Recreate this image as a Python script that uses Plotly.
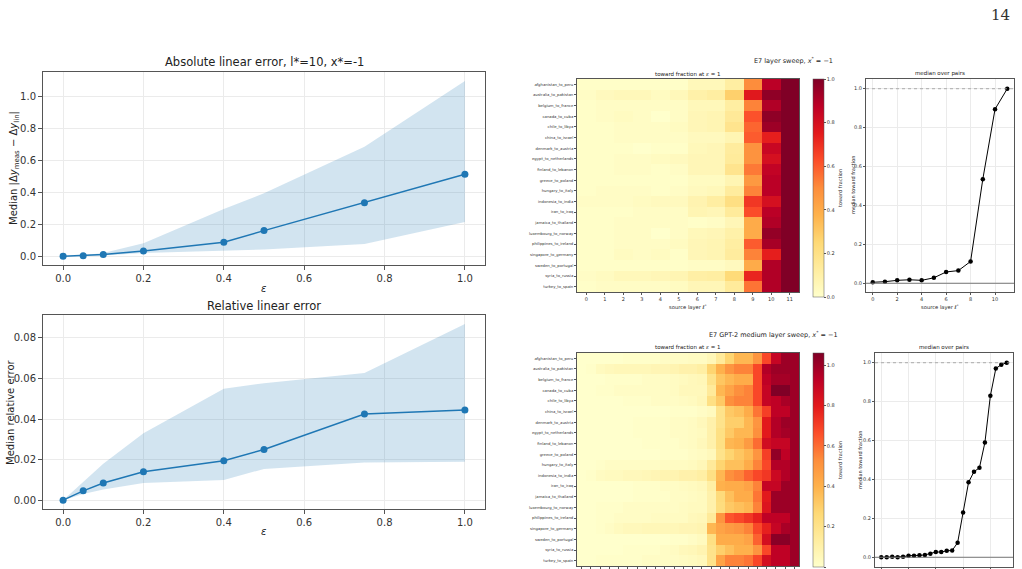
import plotly.graph_objects as go

W, H = 1022, 569
def PX(x): return x / W
def PY(y): return 1 - y / H

# ---------------- data ----------------
eps = [0.0, 0.05, 0.1, 0.2, 0.4, 0.5, 0.75, 1.0]
abs_median = [0.0, 0.003, 0.010, 0.033, 0.087, 0.160, 0.335, 0.513]
abs_lower = [0.0, 0.001, 0.005, 0.020, 0.033, 0.042, 0.077, 0.214]
abs_upper = [0.0, 0.006, 0.020, 0.081, 0.295, 0.393, 0.684, 1.096]

rel_median = [0.0, 0.0046, 0.0085, 0.0140, 0.0194, 0.0250, 0.0425, 0.0445]
rel_lower = [0.0, 0.0030, 0.0053, 0.0085, 0.0100, 0.0154, 0.0186, 0.0190]
rel_upper = [0.0, 0.0090, 0.0180, 0.0330, 0.0549, 0.0577, 0.0627, 0.0869]

pairs = ["afghanistan_to_peru", "australia_to_pakistan", "belgium_to_france", "canada_to_cuba",
         "chile_to_libya", "china_to_israel", "denmark_to_austria", "egypt_to_netherlands",
         "finland_to_lebanon", "greece_to_poland", "hungary_to_italy", "indonesia_to_india",
         "iran_to_iraq", "jamaica_to_thailand", "luxembourg_to_norway", "philippines_to_ireland",
         "singapore_to_germany", "sweden_to_portugal", "syria_to_russia", "turkey_to_spain"]

layers_small = list(range(12))
toward_small = [
    [0.01, 0.01, 0.01, 0.01, 0.01, 0.01, 0.05, 0.05, 0.12, 0.50, 0.88, 1.00],
    [0.02, 0.04, 0.05, 0.05, 0.03, 0.05, 0.10, 0.12, 0.28, 0.76, 0.97, 1.00],
    [0.01, 0.02, 0.02, 0.02, 0.02, 0.02, 0.05, 0.05, 0.12, 0.52, 0.90, 1.00],
    [0.01, 0.02, 0.03, 0.02, 0.00, 0.02, 0.06, 0.07, 0.15, 0.62, 0.97, 1.00],
    [0.01, 0.01, 0.02, 0.02, 0.02, 0.03, 0.06, 0.07, 0.18, 0.58, 0.94, 1.00],
    [0.01, 0.01, 0.02, 0.02, 0.02, 0.02, 0.04, 0.04, 0.07, 0.60, 0.74, 1.00],
    [0.01, 0.01, 0.01, 0.00, 0.01, 0.01, 0.05, 0.06, 0.13, 0.48, 0.84, 1.00],
    [0.01, 0.01, 0.02, 0.02, 0.03, 0.04, 0.06, 0.06, 0.14, 0.48, 0.80, 1.00],
    [0.01, 0.01, 0.02, 0.02, 0.01, 0.02, 0.06, 0.06, 0.18, 0.54, 0.86, 1.00],
    [0.01, 0.01, 0.01, 0.01, 0.01, 0.01, 0.03, 0.03, 0.07, 0.46, 0.88, 1.00],
    [0.01, 0.02, 0.02, 0.02, 0.01, 0.02, 0.04, 0.05, 0.13, 0.52, 0.88, 1.00],
    [0.02, 0.02, 0.02, 0.03, 0.04, 0.04, 0.08, 0.12, 0.21, 0.68, 0.80, 1.00],
    [0.01, 0.01, 0.01, 0.02, 0.02, 0.02, 0.07, 0.06, 0.14, 0.63, 0.88, 1.00],
    [0.01, 0.01, 0.02, 0.02, 0.02, 0.02, 0.01, 0.02, 0.06, 0.40, 0.90, 1.00],
    [0.01, 0.01, 0.02, 0.02, 0.00, 0.02, 0.05, 0.06, 0.10, 0.40, 0.96, 1.00],
    [0.01, 0.01, 0.02, 0.02, 0.02, 0.03, 0.06, 0.07, 0.12, 0.60, 0.92, 1.00],
    [0.01, 0.01, 0.03, 0.02, 0.03, 0.01, 0.06, 0.07, 0.13, 0.52, 0.74, 1.00],
    [0.01, 0.01, 0.01, 0.01, 0.01, 0.01, 0.02, 0.02, 0.04, 0.40, 0.90, 1.00],
    [0.02, 0.03, 0.05, 0.05, 0.06, 0.07, 0.11, 0.12, 0.24, 0.72, 0.90, 1.00],
    [0.01, 0.02, 0.02, 0.02, 0.02, 0.03, 0.06, 0.06, 0.14, 0.55, 0.90, 1.00],
]
median_small = [0.005, 0.008, 0.015, 0.018, 0.015, 0.028, 0.058, 0.065, 0.112, 0.535, 0.895, 1.0]

layers_medium = list(range(24))
toward_medium = [
    [0.00, 0.00, 0.00, 0.00, 0.00, 0.01, 0.01, 0.01, 0.01, 0.02, 0.02, 0.02, 0.03, 0.03, 0.06, 0.15, 0.28, 0.38, 0.38, 0.50, 0.68, 0.90, 1.00, 1.00],
    [0.00, 0.01, 0.04, 0.05, 0.06, 0.06, 0.06, 0.06, 0.07, 0.07, 0.08, 0.10, 0.10, 0.12, 0.28, 0.40, 0.50, 0.55, 0.55, 0.68, 0.95, 1.00, 1.00, 1.00],
    [0.00, 0.00, 0.00, 0.01, 0.01, 0.01, 0.01, 0.02, 0.02, 0.02, 0.03, 0.04, 0.05, 0.06, 0.20, 0.33, 0.38, 0.42, 0.42, 0.68, 0.92, 0.98, 0.98, 1.00],
    [0.00, 0.00, 0.01, 0.01, 0.02, 0.02, 0.02, 0.02, 0.02, 0.02, 0.03, 0.05, 0.05, 0.05, 0.15, 0.38, 0.45, 0.52, 0.55, 0.68, 0.90, 1.06, 1.06, 1.00],
    [0.00, 0.00, 0.00, 0.00, 0.00, 0.01, 0.01, 0.01, 0.02, 0.02, 0.02, 0.03, 0.04, 0.06, 0.22, 0.32, 0.52, 0.55, 0.55, 0.68, 0.90, 0.92, 0.97, 1.00],
    [0.00, 0.00, 0.00, 0.00, 0.00, 0.00, 0.00, 0.00, 0.00, 0.00, 0.01, 0.01, 0.01, 0.02, 0.04, 0.20, 0.32, 0.35, 0.42, 0.58, 0.70, 0.92, 0.92, 1.00],
    [0.00, 0.00, 0.00, 0.00, 0.00, 0.00, 0.01, 0.01, 0.01, 0.01, 0.02, 0.02, 0.03, 0.05, 0.10, 0.20, 0.30, 0.30, 0.38, 0.50, 0.80, 0.95, 1.00, 1.00],
    [0.00, 0.00, 0.00, 0.00, 0.00, 0.00, 0.01, 0.01, 0.01, 0.01, 0.02, 0.02, 0.03, 0.04, 0.10, 0.22, 0.32, 0.38, 0.38, 0.52, 0.80, 0.95, 0.98, 1.00],
    [0.00, 0.00, 0.00, 0.00, 0.00, 0.00, 0.00, 0.01, 0.01, 0.01, 0.01, 0.02, 0.03, 0.05, 0.10, 0.22, 0.38, 0.40, 0.48, 0.60, 0.86, 0.90, 0.90, 1.00],
    [0.00, 0.00, 0.00, 0.00, 0.00, 0.00, 0.00, 0.00, 0.00, 0.01, 0.01, 0.01, 0.02, 0.03, 0.05, 0.20, 0.28, 0.33, 0.38, 0.50, 0.70, 1.02, 0.92, 1.00],
    [0.00, 0.00, 0.01, 0.02, 0.02, 0.02, 0.02, 0.02, 0.02, 0.03, 0.03, 0.03, 0.04, 0.06, 0.15, 0.28, 0.35, 0.35, 0.42, 0.55, 0.68, 0.95, 0.95, 1.00],
    [0.00, 0.01, 0.03, 0.04, 0.04, 0.05, 0.05, 0.06, 0.07, 0.08, 0.08, 0.10, 0.10, 0.12, 0.22, 0.38, 0.52, 0.55, 0.62, 0.68, 0.72, 0.88, 0.95, 1.00],
    [0.00, 0.00, 0.00, 0.00, 0.00, 0.00, 0.01, 0.01, 0.01, 0.02, 0.02, 0.03, 0.04, 0.05, 0.12, 0.40, 0.42, 0.42, 0.45, 0.55, 0.90, 0.90, 1.00, 1.00],
    [0.00, 0.00, 0.00, 0.00, 0.00, 0.00, 0.01, 0.01, 0.01, 0.01, 0.02, 0.02, 0.03, 0.04, 0.10, 0.25, 0.35, 0.42, 0.42, 0.58, 0.80, 1.00, 1.00, 1.00],
    [0.00, 0.00, 0.01, 0.01, 0.01, 0.02, 0.02, 0.02, 0.02, 0.02, 0.02, 0.03, 0.04, 0.04, 0.10, 0.24, 0.32, 0.35, 0.38, 0.55, 0.82, 1.00, 1.00, 1.00],
    [0.00, 0.00, 0.01, 0.01, 0.02, 0.02, 0.02, 0.02, 0.03, 0.03, 0.03, 0.03, 0.05, 0.06, 0.15, 0.50, 0.65, 0.68, 0.72, 0.78, 0.92, 0.92, 0.92, 1.00],
    [0.00, 0.00, 0.01, 0.02, 0.04, 0.05, 0.05, 0.06, 0.06, 0.06, 0.06, 0.07, 0.07, 0.08, 0.38, 0.45, 0.48, 0.50, 0.55, 0.68, 0.78, 0.90, 0.97, 1.00],
    [0.00, 0.00, 0.00, 0.00, 0.00, 0.00, 0.00, 0.00, 0.00, 0.00, 0.01, 0.01, 0.02, 0.04, 0.22, 0.42, 0.42, 0.42, 0.45, 0.62, 0.85, 1.04, 1.04, 1.00],
    [0.00, 0.00, 0.00, 0.00, 0.00, 0.01, 0.01, 0.01, 0.01, 0.02, 0.03, 0.05, 0.06, 0.08, 0.20, 0.30, 0.35, 0.40, 0.40, 0.50, 0.68, 0.92, 0.92, 1.00],
    [0.00, 0.00, 0.01, 0.01, 0.01, 0.01, 0.01, 0.02, 0.02, 0.02, 0.02, 0.03, 0.04, 0.05, 0.20, 0.45, 0.55, 0.55, 0.58, 0.68, 0.85, 0.92, 0.92, 1.00],
]
median_medium = [0.0, 0.0, 0.003, 0.0, 0.003, 0.008, 0.008, 0.010, 0.012, 0.018, 0.027, 0.027,
                 0.033, 0.035, 0.075, 0.230, 0.385, 0.440, 0.460, 0.590, 0.830, 0.970, 0.990, 1.0]

colorbar_ticks = [0, 0.2, 0.4, 0.6, 0.8, 1.0]

# ---------------- style ----------------
FONT = "DejaVu Sans"
BLUE = "#1f77b4"
SPINE = "#555555"
GRID = "#ebebeb"
ylorrd = [[0.0, "#ffffcc"], [0.125, "#ffeda0"], [0.25, "#fed976"], [0.375, "#feb24c"],
          [0.5, "#fd8d3c"], [0.625, "#fc4e2a"], [0.75, "#e31a1c"], [0.875, "#bd0026"], [1.0, "#800026"]]

fig = go.Figure()

# ----- left: absolute error -----
fig.add_trace(go.Scatter(x=eps, y=abs_upper, mode="lines", line=dict(width=0), hoverinfo="skip",
                         showlegend=False, xaxis="x", yaxis="y"))
fig.add_trace(go.Scatter(x=eps, y=abs_lower, mode="lines", line=dict(width=0), fill="tonexty",
                         fillcolor="rgba(31,119,180,0.2)", showlegend=False, xaxis="x", yaxis="y"))
fig.add_trace(go.Scatter(x=eps, y=abs_median, mode="lines+markers", line=dict(color=BLUE, width=1.5),
                         marker=dict(color=BLUE, size=7), showlegend=False, xaxis="x", yaxis="y"))

# ----- left: relative error -----
fig.add_trace(go.Scatter(x=eps, y=rel_upper, mode="lines", line=dict(width=0), hoverinfo="skip",
                         showlegend=False, xaxis="x2", yaxis="y2"))
fig.add_trace(go.Scatter(x=eps, y=rel_lower, mode="lines", line=dict(width=0), fill="tonexty",
                         fillcolor="rgba(31,119,180,0.2)", showlegend=False, xaxis="x2", yaxis="y2"))
fig.add_trace(go.Scatter(x=eps, y=rel_median, mode="lines+markers", line=dict(color=BLUE, width=1.5),
                         marker=dict(color=BLUE, size=7), showlegend=False, xaxis="x2", yaxis="y2"))

def cbar(y0, y1, ticks):
    return dict(x=PX(813), xanchor="left", xpad=0, ypad=0, y=PY(y0), yanchor="top",
                len=(y1 - y0) / H, lenmode="fraction", thickness=11, thicknessmode="pixels",
                outlinewidth=0.5, outlinecolor=SPINE, ticks="outside", ticklen=2, tickcolor=SPINE,
                tickvals=ticks, ticktext=["%.1f" % t for t in ticks],
                tickfont=dict(size=5, family=FONT, color="#333"),
                title=dict(text="toward fraction", side="right", font=dict(size=5, family=FONT, color="#333")))

# ----- heatmaps -----
fig.add_trace(go.Heatmap(z=toward_small, x=layers_small, y=pairs, colorscale=ylorrd, zmin=0, zmax=1.0,
                         colorbar=cbar(79, 297, colorbar_ticks), xaxis="x3", yaxis="y3"))
fig.add_trace(go.Heatmap(z=toward_medium, x=layers_medium, y=pairs, colorscale=ylorrd, zmin=0, zmax=1.06,
                         colorbar=cbar(353, 567, colorbar_ticks), xaxis="x5", yaxis="y5"))

# ----- medians -----
fig.add_trace(go.Scatter(x=layers_small, y=median_small, mode="lines+markers",
                         line=dict(color="black", width=1), marker=dict(color="black", size=4.5),
                         showlegend=False, xaxis="x4", yaxis="y4"))
fig.add_trace(go.Scatter(x=layers_medium, y=median_medium, mode="lines+markers",
                         line=dict(color="black", width=1), marker=dict(color="black", size=4.5),
                         showlegend=False, xaxis="x6", yaxis="y6"))

def ax(domain, rng, **kw):
    d = dict(domain=domain, range=rng, showline=True, mirror=True, linecolor=SPINE, linewidth=1,
             ticks="outside", tickcolor=SPINE, zeroline=False, automargin=False,
             tickfont=dict(family=FONT, size=10, color="#333"))
    d.update(kw)
    return d

small_font = dict(family=FONT, size=5, color="#333")
one_dec = ["0.0", "0.2", "0.4", "0.6", "0.8", "1.0"]

fig.update_layout(
    width=W, height=H, margin=dict(l=0, r=0, t=0, b=0),
    paper_bgcolor="white", plot_bgcolor="white", showlegend=False,
    font=dict(family=FONT, color="#222"),
    xaxis=ax([PX(43), PX(485)], [-0.05, 1.05], anchor="y", tickvals=[0, 0.2, 0.4, 0.6, 0.8, 1.0],
             ticktext=one_dec, showgrid=True, gridcolor=GRID, ticklen=4),
    yaxis=ax([PY(265), PY(72)], [-0.055, 1.152], anchor="x", tickvals=[0, 0.2, 0.4, 0.6, 0.8, 1.0],
             ticktext=one_dec, showgrid=True, gridcolor=GRID, ticklen=4),
    xaxis2=ax([PX(43), PX(485)], [-0.05, 1.05], anchor="y2", tickvals=[0, 0.2, 0.4, 0.6, 0.8, 1.0],
              ticktext=one_dec, showgrid=True, gridcolor=GRID, ticklen=4),
    yaxis2=ax([PY(509), PY(315)], [-0.00435, 0.0913], anchor="x2", tickvals=[0, 0.02, 0.04, 0.06, 0.08],
              ticktext=["0.00", "0.02", "0.04", "0.06", "0.08"], showgrid=True, gridcolor=GRID, ticklen=4),
    xaxis3=ax([PX(577), PX(799)], [-0.5, 11.5], anchor="y3", tickvals=layers_small, showgrid=False,
              ticklen=2, tickfont=small_font),
    yaxis3=ax([PY(292), PY(79)], [19.5, -0.5], anchor="x3", type="category", showgrid=False, ticklen=2,
              tickfont=dict(family=FONT, size=3.8, color="#333")),
    xaxis4=ax([PX(866), PX(1014)], [-0.55, 11.55], anchor="y4", tickvals=[0, 2, 4, 6, 8, 10],
              showgrid=True, gridcolor=GRID, ticklen=2, tickfont=small_font),
    yaxis4=ax([PY(292), PY(79)], [-0.045, 1.05], anchor="x4", tickvals=[0, 0.2, 0.4, 0.6, 0.8, 1.0],
              ticktext=one_dec, showgrid=True, gridcolor=GRID, ticklen=2, tickfont=small_font),
    xaxis5=ax([PX(577), PX(799)], [-0.5, 23.5], anchor="y5", tickvals=layers_medium, showgrid=False,
              ticklen=2, showticklabels=False),
    yaxis5=ax([PY(566), PY(353)], [19.5, -0.5], anchor="x5", type="category", showgrid=False, ticklen=2,
              tickfont=dict(family=FONT, size=3.8, color="#333")),
    xaxis6=ax([PX(875), PX(1013)], [-1.15, 24.15], anchor="y6", tickvals=[0, 5, 10, 15, 20],
              showgrid=True, gridcolor=GRID, ticklen=2, showticklabels=False),
    yaxis6=ax([PY(567), PY(353)], [-0.05, 1.05], anchor="x6", tickvals=[0, 0.2, 0.4, 0.6, 0.8, 1.0],
              ticktext=one_dec, showgrid=True, gridcolor=GRID, ticklen=2, tickfont=small_font),
)

# reference lines in median panels
for xr, yr in (("x4", "y4"), ("x6", "y6")):
    fig.add_shape(type="line", xref=xr + " domain", yref=yr, x0=0, x1=1, y0=0, y1=0,
                  line=dict(color="#777777", width=1))
    fig.add_shape(type="line", xref=xr + " domain", yref=yr, x0=0, x1=1, y0=1, y1=1,
                  line=dict(color="#999999", width=0.8, dash="dot"))

def note(text, x, y, size, angle=0, family=FONT, color="#222", xanchor="center"):
    fig.add_annotation(text=text, x=PX(x), y=PY(y), xref="paper", yref="paper", showarrow=False,
                       font=dict(family=family, size=size, color=color), textangle=angle,
                       xanchor=xanchor, yanchor="middle")

note("14", 1000, 15, 15, family="DejaVu Serif", color="#333")
note("Absolute linear error, l*=10, x*=-1", 264, 62, 11.5)
note("<i>ε</i>", 264, 288, 10)
note("Median |Δ<i>y</i><sub>meas</sub> − Δ<i>y</i><sub>lin</sub>|", 14, 168, 10, angle=-90)
note("Relative linear error", 264, 306, 11.5)
note("<i>ε</i>", 264, 531, 10)
note("Median relative error", 10, 412, 10, angle=-90)

note("E7 layer sweep, <i>x</i><sup>*</sup> = −1", 793, 60, 6.5)
note("toward fraction at <i>ε</i> = 1", 688, 74, 5.5)
note("source layer <i>ℓ</i><sup>*</sup>", 688, 307, 5.2)
note("median over pairs", 940, 74, 5.5)
note("source layer <i>ℓ</i><sup>*</sup>", 940, 307, 5.2)
note("median toward fraction", 853, 185, 5, angle=-90)

note("E7 GPT-2 medium layer sweep, <i>x</i><sup>*</sup> = −1", 773, 334, 6.5)
note("toward fraction at <i>ε</i> = 1", 688, 347, 5.5)
note("median over pairs", 944, 347, 5.5)
note("median toward fraction", 860, 460, 5, angle=-90)

fig.write_html("out.html")
